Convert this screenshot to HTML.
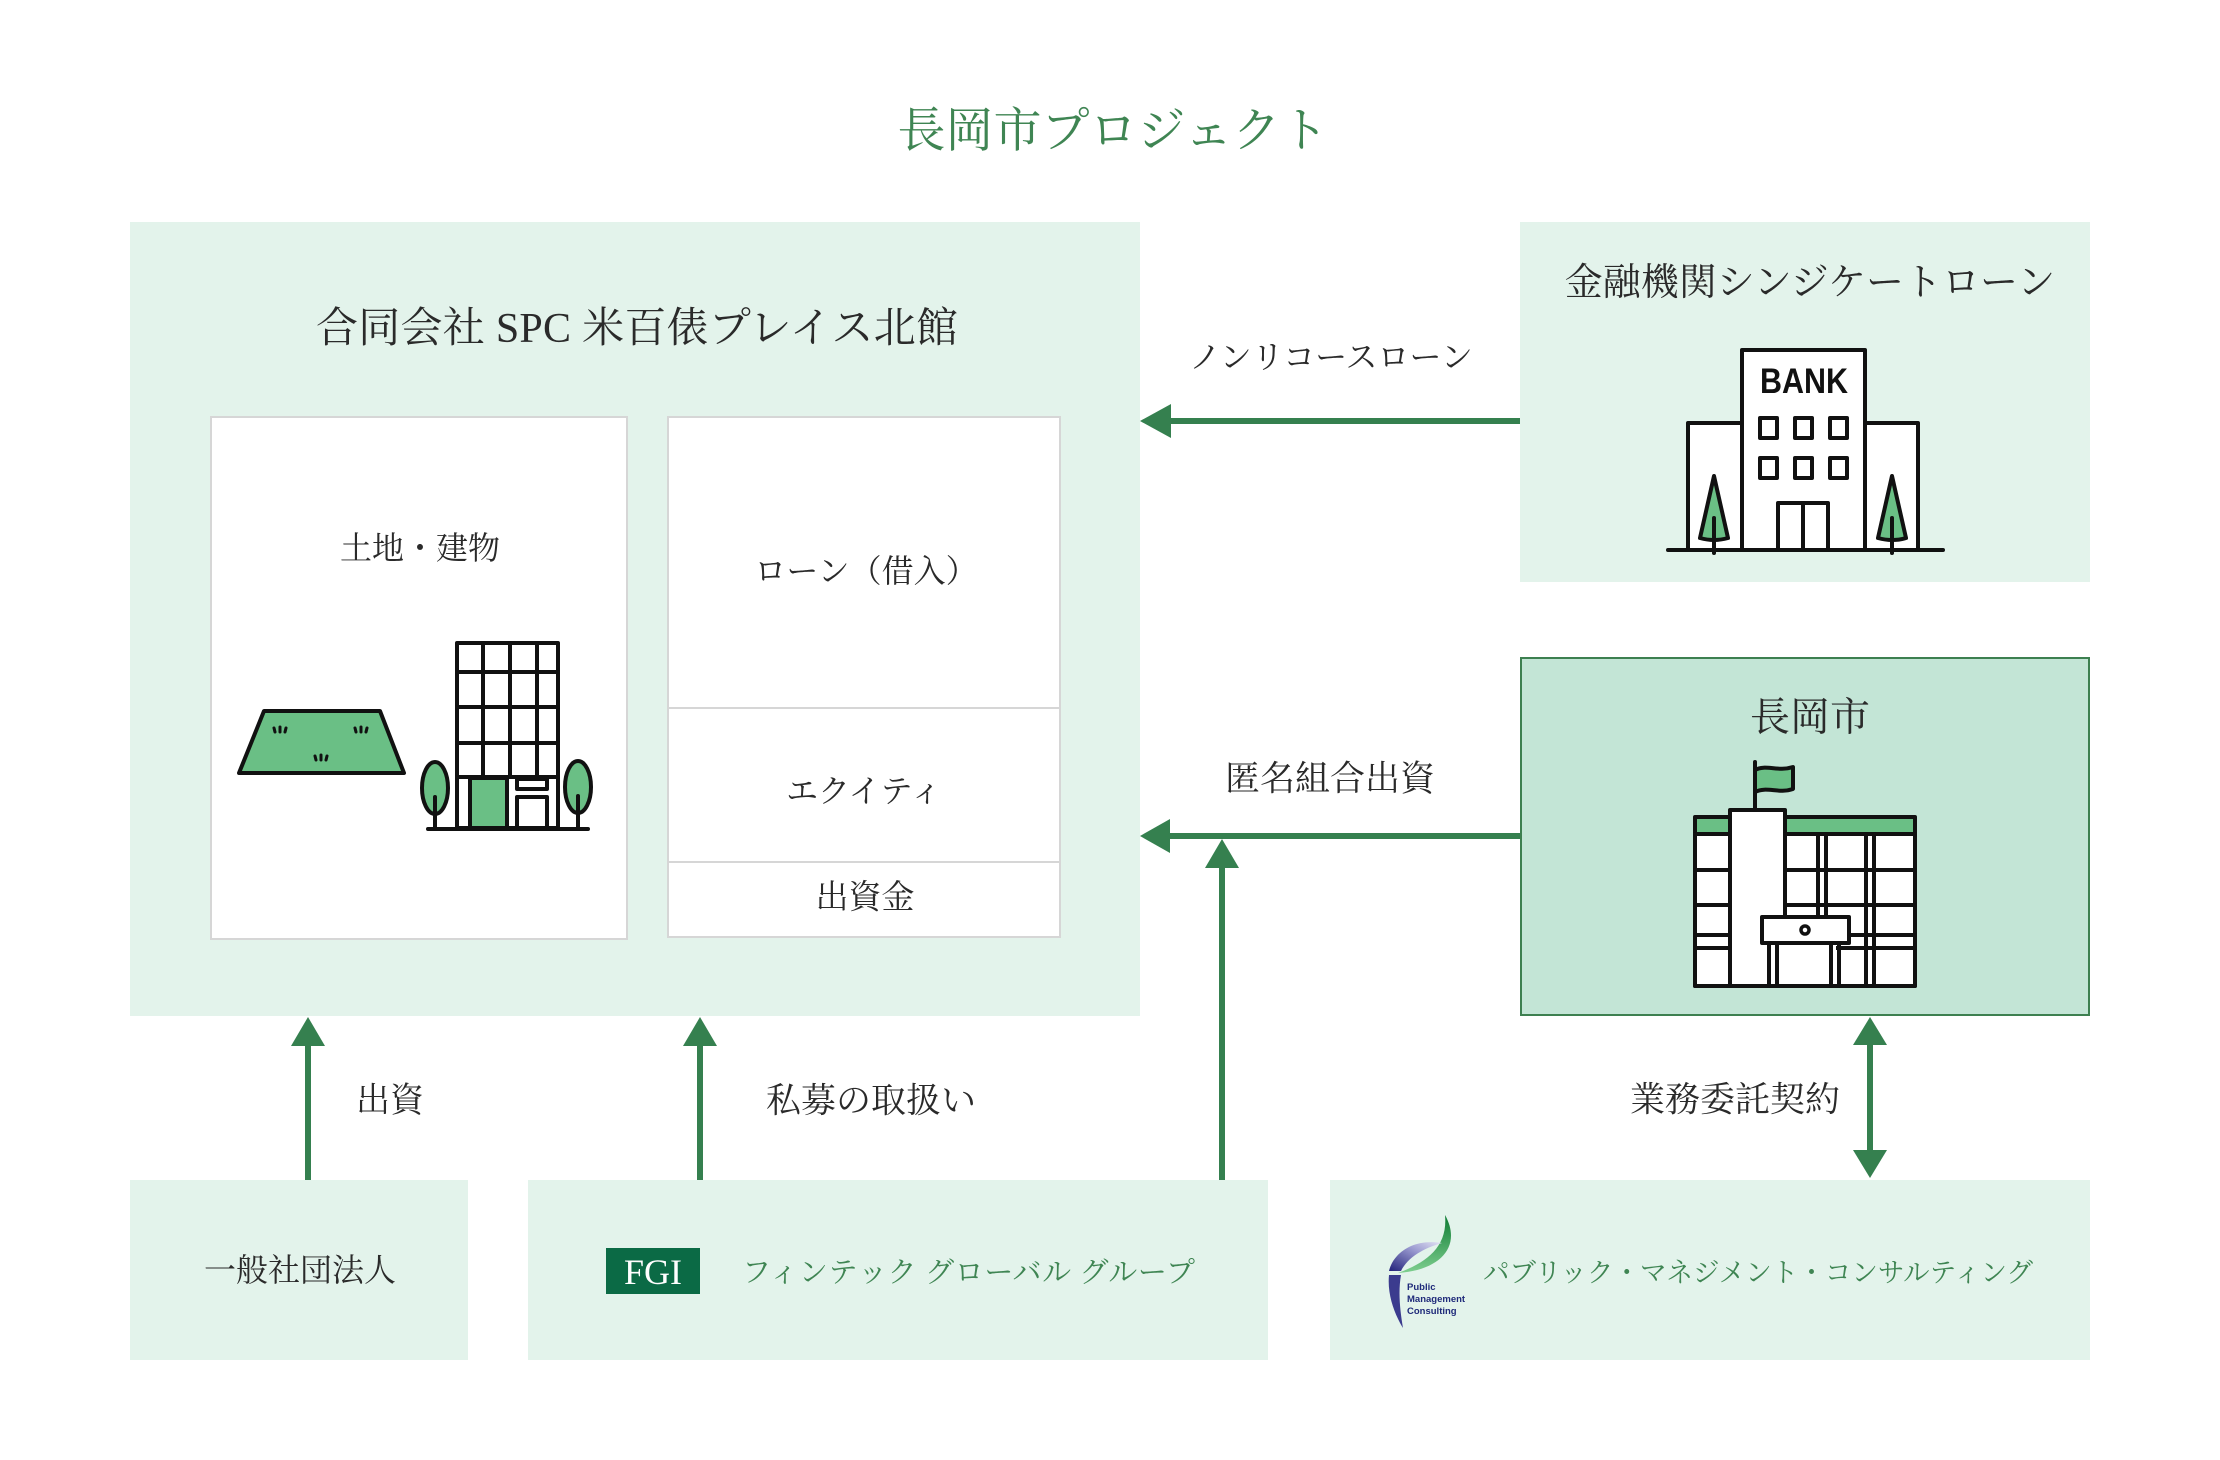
<!DOCTYPE html>
<html>
<head>
<meta charset="utf-8">
<style>
  html,body{margin:0;padding:0;background:#ffffff;}
  svg{display:block;}
  .t{font-family:"Liberation Serif","Noto Serif CJK SC",serif;fill:#2a2a2a;}
  .g{fill:#3f8553;}
</style>
</head>
<body>
<svg width="2220" height="1460" viewBox="0 0 2220 1460" xmlns="http://www.w3.org/2000/svg">
  <rect x="0" y="0" width="2220" height="1460" fill="#ffffff"/>

  <!-- Title -->
  <text class="t g" x="1113" y="131" font-size="48" text-anchor="middle" dominant-baseline="central">長岡市プロジェクト</text>

  <!-- SPC box -->
  <rect x="130" y="222" width="1010" height="794" fill="#e3f3eb"/>
  <text class="t" x="637" y="329" font-size="42" text-anchor="middle" dominant-baseline="central" textLength="642" lengthAdjust="spacing">合同会社 SPC 米百俵プレイス北館</text>

  <!-- inner box 1 -->
  <rect x="211" y="417" width="416" height="522" fill="#ffffff" stroke="#d6d6d6" stroke-width="2"/>
  <text class="t" x="420" y="548" font-size="32" text-anchor="middle" dominant-baseline="central">土地・建物</text>

  <!-- land icon -->
  <g stroke="#111" stroke-width="4" stroke-linejoin="round" stroke-linecap="round">
    <polygon points="264,711 380,711 404,773 239,773" fill="#6abf85"/>
    <g fill="none" stroke-width="3">
      <line x1="274" y1="728" x2="275" y2="732"/><line x1="280" y1="727" x2="280" y2="732"/><line x1="286" y1="728" x2="285" y2="732"/>
      <line x1="355" y1="728" x2="356" y2="732"/><line x1="361" y1="727" x2="361" y2="732"/><line x1="367" y1="728" x2="366" y2="732"/>
      <line x1="315" y1="756" x2="316" y2="760"/><line x1="321" y1="755" x2="321" y2="760"/><line x1="327" y1="756" x2="326" y2="760"/>
    </g>
  </g>

  <!-- office building icon -->
  <g stroke="#111" stroke-width="4" stroke-linejoin="round" stroke-linecap="round">
    <rect x="457" y="643" width="101" height="185" fill="#ffffff"/>
    <line x1="483" y1="643" x2="483" y2="777"/>
    <line x1="510" y1="643" x2="510" y2="777"/>
    <line x1="537" y1="643" x2="537" y2="777"/>
    <line x1="457" y1="672" x2="558" y2="672"/>
    <line x1="457" y1="707" x2="558" y2="707"/>
    <line x1="457" y1="743" x2="558" y2="743"/>
    <line x1="457" y1="777" x2="558" y2="777"/>
    <rect x="470" y="778" width="37" height="50" fill="#6abf85"/>
    <rect x="517" y="779" width="30" height="10" fill="#ffffff"/>
    <polyline points="517,828 517,797 547,797 547,828" fill="none"/>
    <ellipse cx="435" cy="788" rx="13" ry="26" fill="#6abf85"/>
    <line x1="435" y1="797" x2="435" y2="829"/>
    <ellipse cx="578" cy="787" rx="13" ry="26" fill="#6abf85"/>
    <line x1="578" y1="796" x2="578" y2="829"/>
    <line x1="428" y1="829" x2="588" y2="829"/>
  </g>

  <!-- inner box 2 -->
  <rect x="668" y="417" width="392" height="520" fill="#ffffff" stroke="#d6d6d6" stroke-width="2"/>
  <line x1="668" y1="708" x2="1060" y2="708" stroke="#d6d6d6" stroke-width="2"/>
  <line x1="668" y1="862" x2="1060" y2="862" stroke="#d6d6d6" stroke-width="2"/>
  <text class="t" x="866" y="571" font-size="32" text-anchor="middle" dominant-baseline="central">ローン（借入）</text>
  <text class="t" x="864" y="791" font-size="32" text-anchor="middle" dominant-baseline="central">エクイティ</text>
  <text class="t" x="865" y="898" font-size="33" text-anchor="middle" dominant-baseline="central">出資金</text>

  <!-- Bank box -->
  <rect x="1520" y="222" width="570" height="360" fill="#e3f3eb"/>
  <text class="t" x="1810" y="283" font-size="38" text-anchor="middle" dominant-baseline="central">金融機関シンジケートローン</text>

  <!-- bank icon -->
  <g stroke="#111" stroke-width="4" stroke-linejoin="round" stroke-linecap="round">
    <rect x="1688" y="423" width="54" height="127" fill="#ffffff"/>
    <rect x="1865" y="423" width="53" height="127" fill="#ffffff"/>
    <rect x="1742" y="350" width="123" height="200" fill="#ffffff"/>
    <rect x="1760" y="418" width="17" height="20" fill="none"/>
    <rect x="1795" y="418" width="17" height="20" fill="none"/>
    <rect x="1830" y="418" width="17" height="20" fill="none"/>
    <rect x="1760" y="458" width="17" height="20" fill="none"/>
    <rect x="1795" y="458" width="17" height="20" fill="none"/>
    <rect x="1830" y="458" width="17" height="20" fill="none"/>
    <rect x="1778" y="503" width="50" height="47" fill="#ffffff"/>
    <line x1="1803" y1="503" x2="1803" y2="550"/>
    <path d="M1714,476 L1700,538 Q1714,542 1728,538 Z" fill="#6abf85"/>
    <line x1="1714" y1="518" x2="1714" y2="553"/>
    <path d="M1892,476 L1878,538 Q1892,542 1906,538 Z" fill="#6abf85"/>
    <line x1="1892" y1="518" x2="1892" y2="553"/>
    <line x1="1668" y1="550" x2="1943" y2="550"/>
  </g>
  <text x="1804" y="393" font-family="Liberation Sans, sans-serif" font-weight="bold" font-size="35" fill="#111" text-anchor="middle" textLength="88" lengthAdjust="spacingAndGlyphs">BANK</text>

  <!-- Nagaoka box -->
  <rect x="1521" y="658" width="568" height="357" fill="#c3e5d6" stroke="#3d8050" stroke-width="2"/>
  <text class="t" x="1810" y="717" font-size="40" text-anchor="middle" dominant-baseline="central">長岡市</text>

  <!-- city hall icon -->
  <g stroke="#111" stroke-width="4" stroke-linejoin="round" stroke-linecap="round">
    <rect x="1695" y="817" width="220" height="169" fill="#ffffff"/>
    <rect x="1697" y="819" width="216" height="14" fill="#6abf85" stroke="none"/>
    <line x1="1695" y1="834" x2="1915" y2="834"/>
    <line x1="1695" y1="870" x2="1915" y2="870"/>
    <line x1="1695" y1="905" x2="1915" y2="905"/>
    <line x1="1695" y1="935" x2="1915" y2="935"/>
    <line x1="1695" y1="948" x2="1915" y2="948"/>
    <line x1="1818" y1="834" x2="1818" y2="986"/>
    <line x1="1826" y1="834" x2="1826" y2="986"/>
    <line x1="1866" y1="834" x2="1866" y2="986"/>
    <line x1="1874" y1="834" x2="1874" y2="986"/>
    <rect x="1730" y="810" width="55" height="176" fill="#ffffff"/>
    <line x1="1755" y1="762" x2="1755" y2="810"/>
    <path d="M1755,770 C1766,764 1777,772 1793,767 L1793,789 C1778,794 1767,786 1755,792 Z" fill="#6abf85"/>
    <rect x="1772" y="943" width="64" height="43" fill="#ffffff" stroke="none"/>
    <line x1="1769" y1="943" x2="1769" y2="986"/>
    <line x1="1777" y1="943" x2="1777" y2="986"/>
    <line x1="1831" y1="943" x2="1831" y2="986"/>
    <line x1="1839" y1="943" x2="1839" y2="986"/>
    <rect x="1762" y="917" width="87" height="26" fill="#ffffff"/>
    <circle cx="1805" cy="930" r="4" fill="none" stroke-width="3.5"/>
    <line x1="1695" y1="986" x2="1915" y2="986"/>
  </g>

  <!-- Bottom boxes -->
  <rect x="130" y="1180" width="338" height="180" fill="#e3f3eb"/>
  <text class="t" x="300" y="1270" font-size="32" text-anchor="middle" dominant-baseline="central">一般社団法人</text>

  <rect x="528" y="1180" width="740" height="180" fill="#e3f3eb"/>
  <rect x="606" y="1248" width="94" height="46" fill="#0b6a45"/>
  <text x="653" y="1284" font-family="Liberation Serif, serif" font-size="36" fill="#ffffff" text-anchor="middle">FGI</text>
  <text class="t g" x="742" y="1273" font-size="29" dominant-baseline="central" textLength="453" lengthAdjust="spacing">フィンテック グローバル グループ</text>

  <rect x="1330" y="1180" width="760" height="180" fill="#e3f3eb"/>
  <defs>
    <linearGradient id="gg" x1="0" y1="0" x2="0" y2="1">
      <stop offset="0" stop-color="#0d7a32"/>
      <stop offset="1" stop-color="#7fcf8f"/>
    </linearGradient>
    <linearGradient id="pg" x1="1" y1="0" x2="0" y2="1">
      <stop offset="0" stop-color="#e4e4f4"/>
      <stop offset="0.4" stop-color="#9a9ad0"/>
      <stop offset="1" stop-color="#22227a"/>
    </linearGradient>
  </defs>
  <path d="M1445,1215 C1462,1245 1442,1270 1398,1273 C1428,1262 1448,1246 1445,1215 Z" fill="url(#gg)"/>
  <path d="M1442,1243 C1412,1238 1393,1254 1389,1271 L1401,1271 C1408,1257 1424,1248 1442,1243 Z" fill="url(#pg)"/>
  <path d="M1389,1275 C1387,1295 1395,1315 1403,1328 C1400,1310 1398,1292 1401,1275 Z" fill="#3b3b8e"/>
  <g font-family="Liberation Sans, sans-serif" font-weight="bold" font-size="9.5" fill="#1f2a7a">
    <text x="1407" y="1290">Public</text>
    <text x="1407" y="1302">Management</text>
    <text x="1407" y="1314">Consulting</text>
  </g>
  <text class="t g" x="1483" y="1273" font-size="27" dominant-baseline="central" textLength="550" lengthAdjust="spacingAndGlyphs">パブリック・マネジメント・コンサルティング</text>

  <!-- Arrows -->
  <g fill="#35804f" stroke="none">
    <rect x="1168" y="418" width="352" height="6"/>
    <polygon points="1140,421 1171,404 1171,438"/>
    <rect x="1168" y="833" width="352" height="6"/>
    <polygon points="1140,836 1170,819 1170,853"/>
    <rect x="1219" y="866" width="6" height="314"/>
    <polygon points="1222,839 1205,868 1239,868"/>
    <rect x="305" y="1044" width="6" height="136"/>
    <polygon points="308,1017 291,1046 325,1046"/>
    <rect x="697" y="1044" width="6" height="136"/>
    <polygon points="700,1017 683,1046 717,1046"/>
    <rect x="1867" y="1043" width="6" height="109"/>
    <polygon points="1870,1017 1853,1045 1887,1045"/>
    <polygon points="1870,1178 1853,1150 1887,1150"/>
  </g>

  <!-- Arrow labels -->
  <text class="t" x="1331" y="357" font-size="32" text-anchor="middle" dominant-baseline="central">ノンリコースローン</text>
  <text class="t" x="1330" y="779" font-size="35" text-anchor="middle" dominant-baseline="central">匿名組合出資</text>
  <text class="t" x="356" y="1101" font-size="34" dominant-baseline="central">出資</text>
  <text class="t" x="766" y="1101" font-size="35" dominant-baseline="central">私募の取扱い</text>
  <text class="t" x="1735" y="1100" font-size="35" text-anchor="middle" dominant-baseline="central">業務委託契約</text>
</svg>
</body>
</html>
